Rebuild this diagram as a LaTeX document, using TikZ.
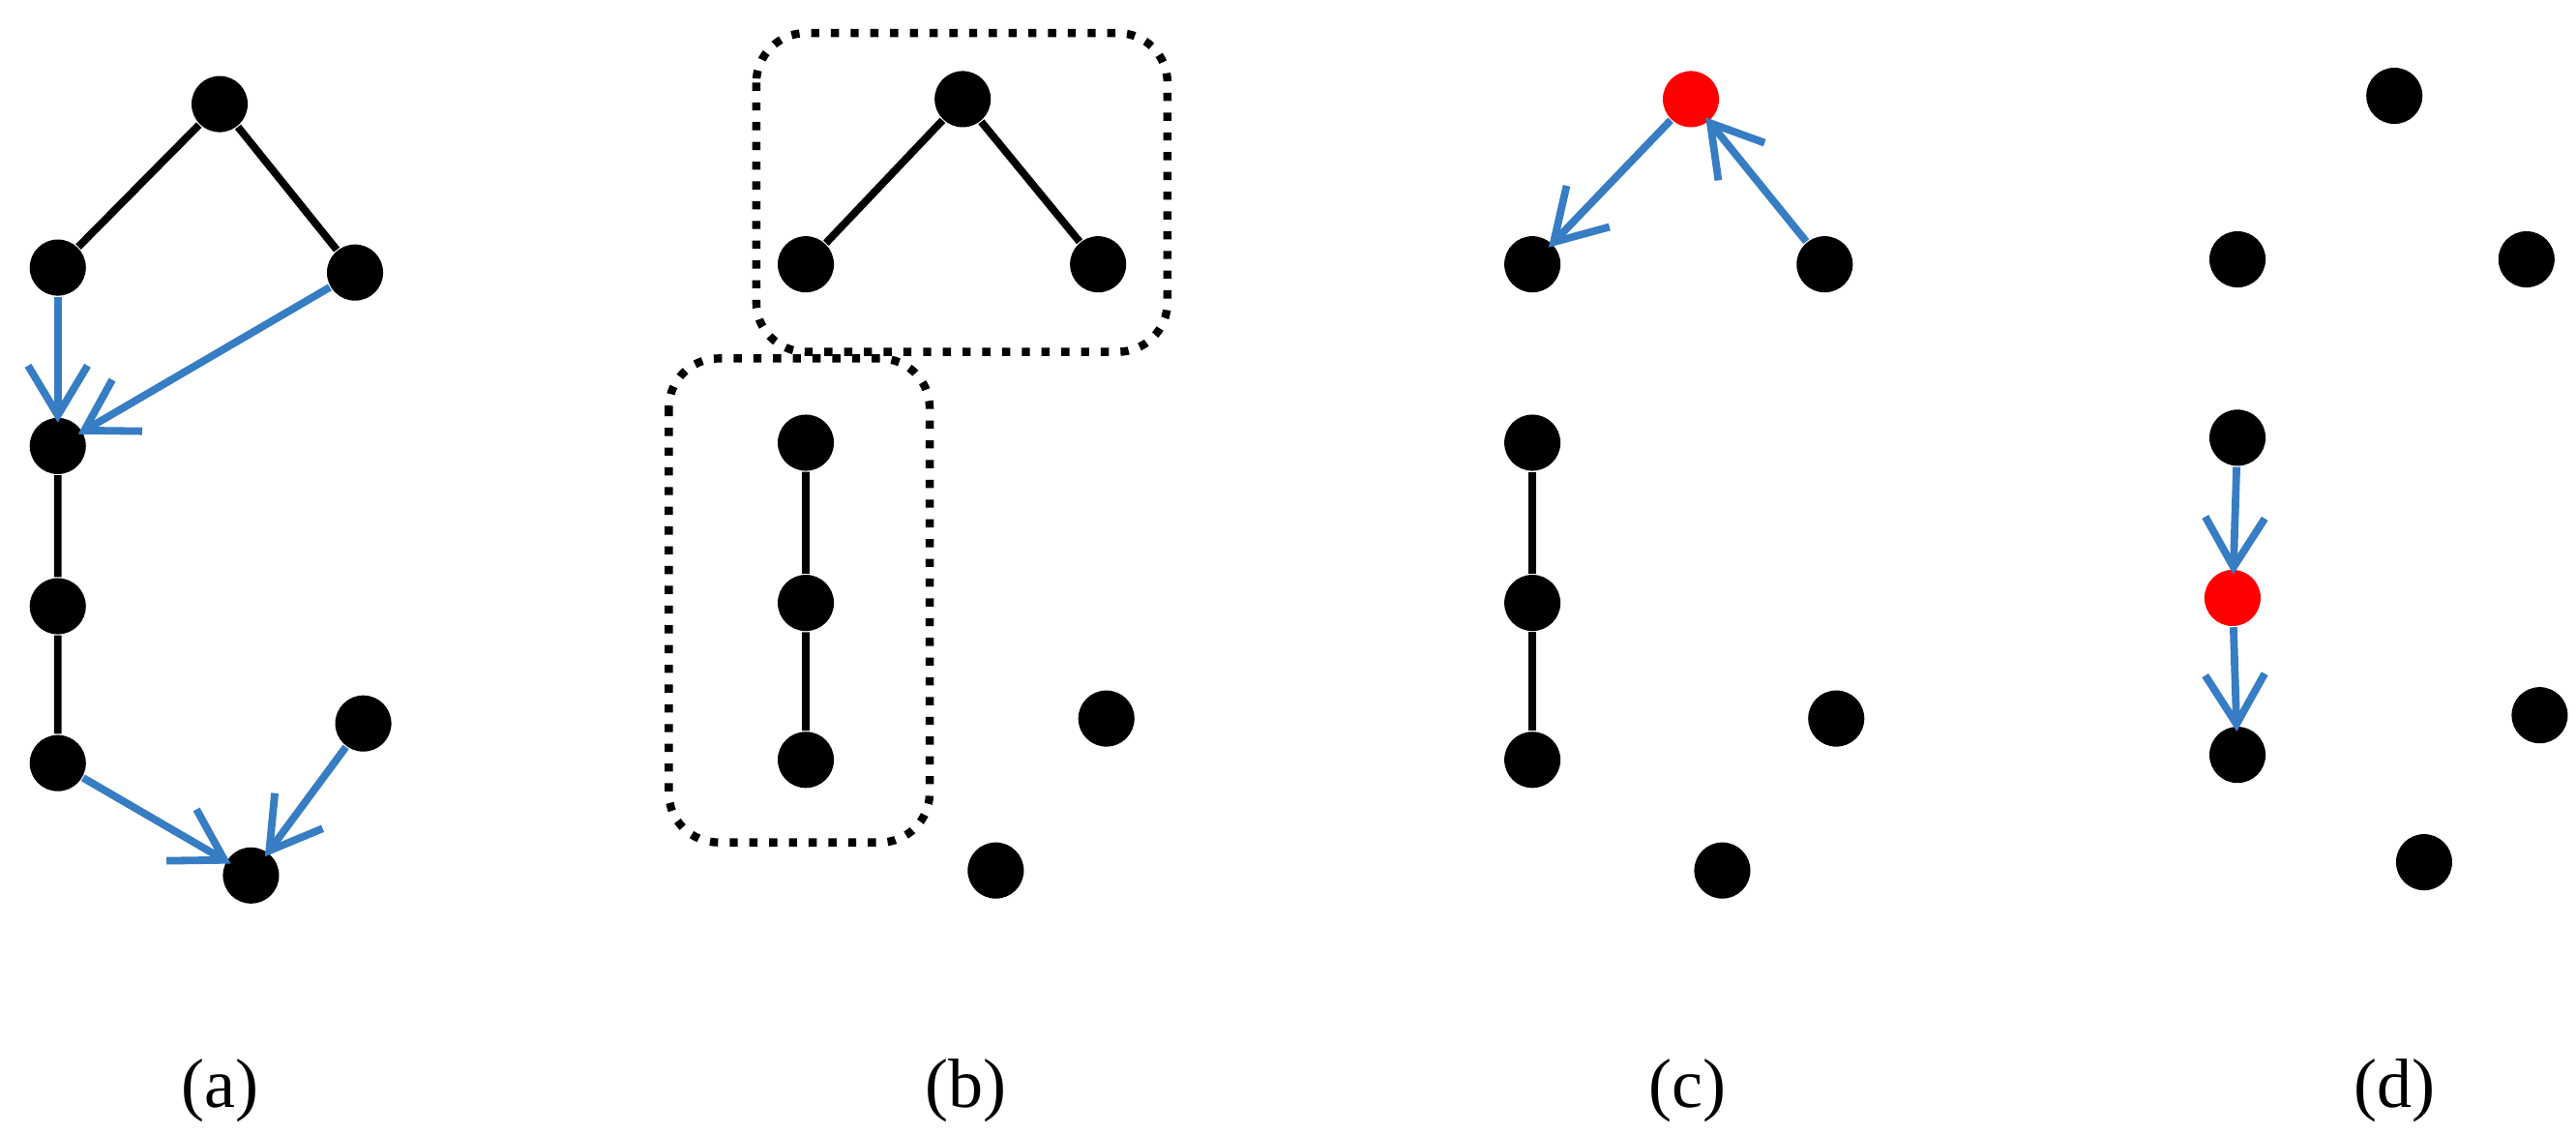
\documentclass[tikz,border=0pt]{standalone}
\usepackage{fontspec}
\setmainfont{Liberation Serif}
\usetikzlibrary{arrows.meta}
\begin{document}
\begin{tikzpicture}[x=0.01cm,y=-0.01cm,
  v/.style={circle,fill=black,inner sep=0pt,minimum size=0.34cm},
  rv/.style={circle,fill=red,inner sep=0pt,minimum size=0.34cm},
  e/.style={line width=1.3pt},
  a/.style={line width=1.3pt,draw={rgb,255:red,55;green,125;blue,195},-{Straight Barb[length=0.3cm,width=0.36cm,line width=1.3pt]},shorten >=-1pt},
  box/.style={dotted,line width=1.4pt,rounded corners=0.3cm},
  lab/.style={font=\fontsize{12}{14}\selectfont}]
\useasboundingbox (0,0) rectangle (1560,687);
% (a)
\node[v] (a1) at (133,63) {};
\node[v] (a2) at (35,162) {};
\node[v] (a3) at (215,165) {};
\node[v] (a4) at (35,270) {};
\node[v] (a5) at (35,367) {};
\node[v] (a6) at (35,462) {};
\node[v] (a7) at (220,438) {};
\node[v] (a8) at (152,530) {};
\draw[e] (a1)--(a2) (a1)--(a3) (a4)--(a5) (a5)--(a6);
\draw[a] (a2)--(a4); \draw[a] (a3)--(a4); \draw[a] (a6)--(a8); \draw[a] (a7)--(a8);
\node[lab] (la) at (133,660) {(a)};
% (b)
\draw[box] (458,20) rectangle (707,213);
\draw[box] (405,217) rectangle (563,510);
\node[v] (b1) at (583,60) {};
\node[v] (b2) at (488,160) {};
\node[v] (b3) at (665,160) {};
\node[v] (b4) at (488,268) {};
\node[v] (b5) at (488,365) {};
\node[v] (b6) at (488,460) {};
\node[v] (b7) at (670,435) {};
\node[v] (b8) at (603,527) {};
\draw[e] (b1)--(b2) (b1)--(b3) (b4)--(b5) (b5)--(b6);
\node[lab] (lb) at (585,660) {(b)};
% (c)
\node[rv] (c1) at (1024,60) {};
\node[v] (c2) at (928,160) {};
\node[v] (c3) at (1105,160) {};
\node[v] (c4) at (928,268) {};
\node[v] (c5) at (928,365) {};
\node[v] (c6) at (928,460) {};
\node[v] (c7) at (1112,435) {};
\node[v] (c8) at (1043,527) {};
\draw[e] (c4)--(c5) (c5)--(c6);
\draw[a] (c1)--(c2); \draw[a] (c3)--(c1);
\node[lab] (lc) at (1022,660) {(c)};
% (d)
\node[v] (d1) at (1450,58) {};
\node[v] (d2) at (1355,157) {};
\node[v] (d3) at (1530,157) {};
\node[v] (d4) at (1355,265) {};
\node[rv] (d5) at (1352,362) {};
\node[v] (d6) at (1355,457) {};
\node[v] (d7) at (1538,433) {};
\node[v] (d8) at (1468,522) {};
\draw[a] (d4)--(d5); \draw[a] (d5)--(d6);
\node[lab] (ld) at (1450,660) {(d)};
\end{tikzpicture}
\end{document}
